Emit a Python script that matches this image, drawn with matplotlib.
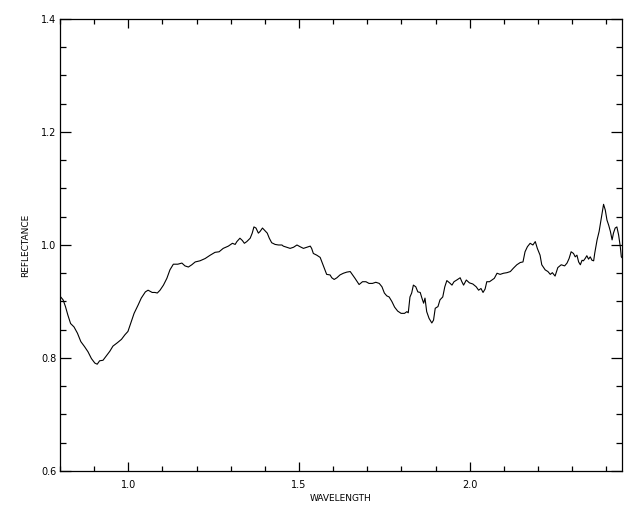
import matplotlib
matplotlib.use('Agg')
import matplotlib.pyplot as plt
from matplotlib.ticker import MultipleLocator

# Spectrum
wavelength = [
    0.800, 0.802, 0.809, 0.816, 0.823, 0.831, 0.841, 0.851, 0.861, 0.872, 0.882,
    0.892, 0.902, 0.909, 0.916, 0.926, 0.936, 0.946, 0.955, 0.968, 0.980, 0.990,
    0.999, 1.007, 1.017, 1.029, 1.038, 1.050, 1.058, 1.070, 1.078, 1.085, 1.093,
    1.103, 1.113, 1.122, 1.132, 1.145, 1.157, 1.166, 1.176, 1.186, 1.196, 1.210,
    1.225, 1.240, 1.254, 1.266, 1.278, 1.293, 1.305, 1.313, 1.318, 1.327, 1.334,
    1.340, 1.347, 1.357, 1.363, 1.368, 1.374, 1.381, 1.386, 1.393, 1.401, 1.407,
    1.413, 1.420, 1.430, 1.440, 1.450, 1.454, 1.464, 1.474, 1.484, 1.494, 1.503,
    1.513, 1.523, 1.533, 1.537, 1.542, 1.552, 1.562, 1.567, 1.574, 1.581, 1.591,
    1.596, 1.603, 1.611, 1.620, 1.630, 1.640, 1.650, 1.664, 1.676, 1.686, 1.696,
    1.705, 1.715, 1.725, 1.735, 1.743, 1.750, 1.757, 1.764, 1.772, 1.780, 1.789,
    1.799, 1.809, 1.816, 1.820, 1.825, 1.830, 1.835, 1.842, 1.848, 1.855, 1.860,
    1.865, 1.869, 1.874, 1.881, 1.889, 1.894, 1.899, 1.907, 1.913, 1.921, 1.927,
    1.933, 1.941, 1.948, 1.954, 1.962, 1.972, 1.977, 1.982, 1.990, 1.999, 2.009,
    2.019, 2.026, 2.033, 2.039, 2.045, 2.050, 2.058, 2.065, 2.072, 2.080, 2.089,
    2.099, 2.109, 2.119, 2.128, 2.138, 2.148, 2.156, 2.162, 2.169, 2.177, 2.185,
    2.192, 2.198, 2.206, 2.211, 2.221, 2.229, 2.236, 2.242, 2.250, 2.258, 2.268,
    2.278, 2.285, 2.291, 2.297, 2.304, 2.309, 2.314, 2.319, 2.324, 2.329, 2.333,
    2.338, 2.343, 2.348, 2.353, 2.358, 2.363, 2.366, 2.373, 2.379, 2.387, 2.392,
    2.397, 2.402, 2.407, 2.412, 2.417, 2.421, 2.426, 2.431, 2.436, 2.441, 2.444,
    2.447,
]
reflectance = [
    0.910, 0.908, 0.903, 0.891, 0.876, 0.861, 0.855, 0.844, 0.829, 0.820, 0.811,
    0.799, 0.791, 0.789, 0.795, 0.796, 0.804, 0.812, 0.821, 0.827, 0.833, 0.841,
    0.847, 0.861, 0.879, 0.894, 0.906, 0.917, 0.920, 0.916, 0.916, 0.915, 0.920,
    0.929, 0.941, 0.956, 0.966, 0.966, 0.968, 0.963, 0.961, 0.965, 0.970, 0.972,
    0.976, 0.982, 0.987, 0.988, 0.994, 0.998, 1.003, 1.001, 1.006, 1.012, 1.008,
    1.003, 1.006, 1.012, 1.021, 1.032, 1.030, 1.021, 1.024, 1.030, 1.025, 1.021,
    1.012, 1.004, 1.001, 1.000, 1.000, 0.998, 0.996, 0.994, 0.996, 1.000, 0.997,
    0.994, 0.996, 0.998, 0.994, 0.985, 0.982, 0.978, 0.970, 0.959, 0.948, 0.947,
    0.942, 0.939, 0.942, 0.947, 0.950, 0.952, 0.953, 0.941, 0.930, 0.935, 0.935,
    0.932, 0.932, 0.934, 0.932, 0.926, 0.915, 0.910, 0.908, 0.900, 0.890, 0.883,
    0.879, 0.879, 0.882, 0.880, 0.908, 0.915, 0.929, 0.926, 0.917, 0.916, 0.906,
    0.897, 0.906, 0.882, 0.870, 0.862, 0.867, 0.888, 0.891, 0.903, 0.908, 0.926,
    0.937, 0.933, 0.929, 0.935, 0.938, 0.942, 0.935, 0.929, 0.938, 0.933, 0.931,
    0.926, 0.920, 0.923, 0.916, 0.922, 0.935, 0.935, 0.938, 0.941, 0.950, 0.948,
    0.950, 0.951, 0.953, 0.959, 0.965, 0.969, 0.970, 0.988, 0.997, 1.003, 1.000,
    1.006, 0.994, 0.982, 0.965, 0.956, 0.953, 0.948, 0.951, 0.945, 0.960, 0.965,
    0.963, 0.968, 0.976, 0.988, 0.985, 0.979, 0.982, 0.970, 0.965, 0.973, 0.972,
    0.976, 0.981, 0.975, 0.979, 0.973, 0.972, 0.985, 1.009, 1.024, 1.053, 1.072,
    1.062, 1.044, 1.035, 1.024, 1.009, 1.021, 1.030, 1.032, 1.018, 0.997, 0.979,
    0.977,
]

fig = plt.figure(figsize=(6.4, 5.12), dpi=100)
ax = fig.add_axes([0.09375, 0.0801, 0.878125, 0.8828])

ax.plot(wavelength, reflectance, color='black', linewidth=0.8)

ax.set_xlim(0.8, 2.446)
ax.set_ylim(0.6, 1.4)

# IDL-style axes: ticks inside on all four sides
ax.xaxis.set_major_locator(MultipleLocator(0.5))
ax.xaxis.set_minor_locator(MultipleLocator(0.1))
ax.yaxis.set_major_locator(MultipleLocator(0.2))
ax.yaxis.set_minor_locator(MultipleLocator(0.05))
ax.xaxis.set_major_formatter(plt.FormatStrFormatter('%.1f'))
ax.yaxis.set_major_formatter(plt.FormatStrFormatter('%.1f'))

ax.tick_params(axis='x', which='major', direction='in', top=True, length=6.5, width=0.9, labelsize=7, pad=6.5)
ax.tick_params(axis='x', which='minor', direction='in', top=True, length=3.3, width=0.9)
ax.tick_params(axis='y', which='major', direction='in', right=True, length=8, width=0.9, labelsize=7, pad=2.5)
ax.tick_params(axis='y', which='minor', direction='in', right=True, length=4, width=0.9)

for s in ax.spines.values():
    s.set_linewidth(0.9)

ax.set_xlabel('WAVELENGTH', fontsize=6.5, labelpad=3)
ax.set_ylabel('REFLECTANCE', fontsize=6.5, labelpad=8)

plt.savefig('out.png', dpi=100)
